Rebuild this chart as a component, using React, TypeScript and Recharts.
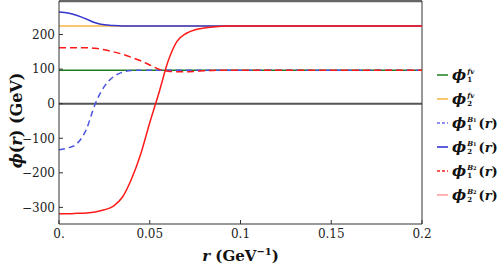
import React from 'react';
import { LineChart, Line, XAxis, YAxis, ReferenceLine } from 'recharts';

const rValues = [0, 0.005, 0.01, 0.015, 0.02, 0.025, 0.03, 0.035, 0.04, 0.045, 0.05, 0.055, 0.06, 0.065, 0.07, 0.075, 0.08, 0.085, 0.09, 0.095, 0.1, 0.15, 0.2];
const phi1Fv = [97, 97, 97, 97, 97, 97, 97, 97, 97, 97, 97, 97, 97, 97, 97, 97, 97, 97, 97, 97, 97, 97, 97];
const phi2Fv = [225, 225, 225, 225, 225, 225, 225, 225, 225, 225, 225, 225, 225, 225, 225, 225, 225, 225, 225, 225, 225, 225, 225];
const phi1B1 = [-133, -128, -115, -75, 0, 50, 78, 91, 96, 97, 97, 97, 97, 97, 97, 97, 97, 97, 97, 97, 97, 97, 97];
const phi2B1 = [265, 262, 255, 245, 234, 228, 226, 225, 225, 225, 225, 225, 225, 225, 225, 225, 225, 225, 225, 225, 225, 225, 225];
const phi1B2 = [162, 162, 162, 162, 160, 156, 150, 143, 134, 124, 112, 100, 94, 92.5, 92.5, 93.5, 95, 96, 97, 97, 97, 97, 97];
const phi2B2 = [-318, -318, -317, -316, -313, -307, -296, -270, -217, -146, -55, 30, 121, 180, 203, 214, 219, 222, 224, 224.5, 225, 225, 225];

const xTicks = [0, 0.05, 0.1, 0.15, 0.2];
const yTicks = [-300, -200, -100, 0, 100, 200];
const yDomain = [-348, 297];

const data = rValues.map((r, i) => ({
  r,
  phi1Fv: phi1Fv[i],
  phi2Fv: phi2Fv[i],
  phi1B1: phi1B1[i],
  phi2B1: phi2B1[i],
  phi1B2: phi1B2[i],
  phi2B2: phi2B2[i],
}));

const serif = '"DejaVu Serif", "Liberation Serif", serif';

const legendItems = [
  { key: 'phi1Fv', color: '#1e7d1e', dash: undefined, sub: '1', sup: 'fv', arg: false },
  { key: 'phi2Fv', color: '#f5b642', dash: undefined, sub: '2', sup: 'fv', arg: false },
  { key: 'phi1B1', color: '#6a6af0', dash: '3 2', sub: '1', sup: 'B1', arg: true },
  { key: 'phi2B1', color: '#2a2ad0', dash: undefined, sub: '2', sup: 'B1', arg: true },
  { key: 'phi1B2', color: '#ff2020', dash: '3 2', sub: '1', sup: 'B2', arg: true },
  { key: 'phi2B2', color: '#ff9a9a', dash: undefined, sub: '2', sup: 'B2', arg: true },
];

function XTitle({ viewBox }: any) {
  const cx = viewBox.x + viewBox.width / 2;
  const y = viewBox.y + 37;
  return (
    <text x={cx} y={y} textAnchor="middle" fontFamily={serif} fontWeight="bold" fontSize={15} fill="#111">
      <tspan fontStyle="italic">r</tspan> (GeV
      <tspan dy={-6} fontSize={10}>−1</tspan>
      <tspan dy={6}>)</tspan>
    </text>
  );
}

function YTitle({ viewBox }: any) {
  const cx = viewBox.x + 7;
  const cy = viewBox.y + viewBox.height / 2 + 8;
  return (
    <text
      x={cx}
      y={cy}
      transform={`rotate(-90 ${cx} ${cy})`}
      textAnchor="middle"
      dominantBaseline="central"
      fontFamily={serif}
      fontWeight="bold"
      fontSize={16}
      fill="#111"
    >
      <tspan fontStyle="italic">ϕ</tspan>(<tspan fontStyle="italic">r</tspan>) (GeV)
    </text>
  );
}

function Sup({ text }: { text: string }) {
  if (text === 'fv') return <span style={{ fontStyle: 'italic' }}>fv</span>;
  return (
    <span style={{ fontStyle: 'italic' }}>
      {text[0]}
      <span style={{ fontSize: 5, fontStyle: 'normal' }}>{text[1]}</span>
    </span>
  );
}

function PhiLegend() {
  return (
    <div style={{ position: 'absolute', left: 437, top: 63, fontFamily: serif, color: '#111' }}>
      {legendItems.map((it) => (
        <div key={it.key} style={{ height: 24, display: 'flex', alignItems: 'center' }}>
          <svg width={12} height={10} style={{ marginRight: 3 }}>
            <line x1={0} y1={5} x2={11} y2={5} stroke={it.color} strokeWidth={1.5} strokeDasharray={it.dash} />
          </svg>
          <span style={{ fontStyle: 'italic', fontWeight: 'bold', fontSize: 15 }}>ϕ</span>
          <span
            style={{
              display: 'inline-flex',
              flexDirection: 'column',
              fontSize: 7,
              lineHeight: '8px',
              fontWeight: 'bold',
              marginLeft: 1,
              marginTop: 2,
            }}
          >
            <Sup text={it.sup} />
            <span>{it.sub}</span>
          </span>
          {it.arg && (
            <span style={{ fontWeight: 'bold', fontSize: 13, marginLeft: 2 }}>
              (<span style={{ fontStyle: 'italic' }}>r</span>)
            </span>
          )}
        </div>
      ))}
    </div>
  );
}

export default function App() {
  return (
    <div style={{ position: 'absolute', left: 0, top: 0, width: 498, height: 269, background: '#fff' }}>
      <LineChart width={498} height={269} data={data} margin={{ top: 1, right: 76, bottom: 5, left: 9 }}>
        <XAxis
          dataKey="r"
          type="number"
          domain={[0, 0.2]}
          ticks={xTicks}
          tickFormatter={(v: number) => (v === 0 ? '0.' : String(v))}
          tick={{ fontFamily: serif, fontSize: 12, fill: '#222' }}
          tickSize={-4}
          tickMargin={9}
          height={40}
          axisLine={{ stroke: '#333' }}
          tickLine={{ stroke: '#333' }}
          label={<XTitle />}
        />
        <YAxis
          type="number"
          domain={yDomain}
          ticks={yTicks}
          allowDataOverflow
          tickFormatter={(v: number) => String(v).replace('-', '−')}
          tick={{ fontFamily: serif, fontSize: 12, fill: '#222' }}
          tickSize={-4}
          tickMargin={8}
          width={50}
          axisLine={{ stroke: '#333' }}
          tickLine={{ stroke: '#333' }}
          label={<YTitle />}
        />
        <ReferenceLine y={0} stroke="#555" strokeWidth={2} />
        <ReferenceLine y={yDomain[1]} stroke="#666" strokeWidth={2.5} />
        <ReferenceLine x={0.2} stroke="#333" />
        <Line type="monotone" dataKey="phi1Fv" stroke="#1e7d1e" strokeWidth={1.5} dot={false} isAnimationActive={false} />
        <Line type="monotone" dataKey="phi2Fv" stroke="#f5b642" strokeWidth={1.5} dot={false} isAnimationActive={false} />
        <Line type="monotone" dataKey="phi1B1" stroke="#4a55e0" strokeWidth={1.5} strokeDasharray="6 4" dot={false} isAnimationActive={false} />
        <Line type="monotone" dataKey="phi2B1" stroke="#3535d0" strokeWidth={1.5} dot={false} isAnimationActive={false} />
        <Line type="monotone" dataKey="phi1B2" stroke="#ff1a1a" strokeWidth={1.5} strokeDasharray="7 4" dot={false} isAnimationActive={false} />
        <Line type="monotone" dataKey="phi2B2" stroke="#ff1a1a" strokeWidth={1.5} dot={false} isAnimationActive={false} />
      </LineChart>
      <PhiLegend />
    </div>
  );
}
